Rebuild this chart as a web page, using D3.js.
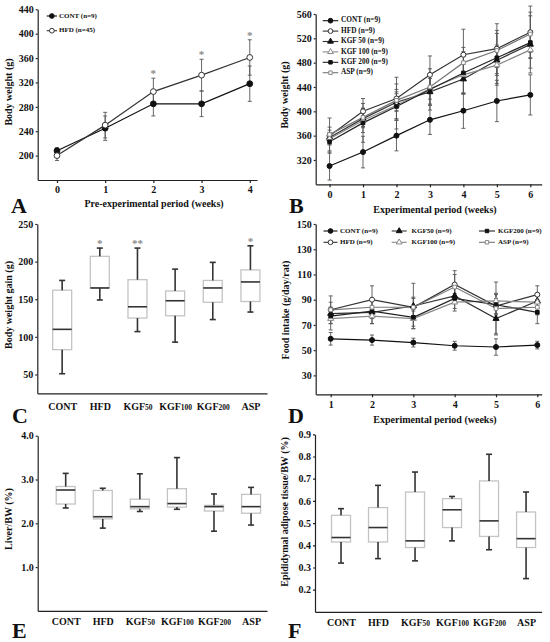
<!DOCTYPE html>
<html>
<head>
<meta charset="utf-8">
<script src="https://cdn.jsdelivr.net/npm/d3@7"></script>
<style>
  body { margin: 0; background: #fff; }
  svg { display: block; }
  text { font-family: "Liberation Serif", "Times New Roman", serif; font-weight: bold; fill: #111; }
</style>
</head>
<body>
<svg id="fig" width="550" height="642"></svg>
<script>
// ---- panel A: pre-experimental body weight ----
const weeksA = [0, 1, 2, 3, 4];
const contA = [208, 245, 285, 285, 318];
const contAsd = [5, 20, 20, 21, 29];
const hfdA = [200, 250, 305, 332, 361];
const hfdAsd = [8, 21, 22, 26, 29];
const starWeeksA = [2, 3, 4];

// ---- panel B: experimental body weight ----
const weeksB = [0, 1, 2, 3, 4, 5, 6];
const contB = [310, 333, 360, 386, 401, 417, 427];
const contBsd = [23, 26, 25, 24, 29, 34, 33];
const hfdB = [360, 400, 421, 460, 493, 503, 530];
const hfdBsd = [29, 21, 35, 31, 42, 41, 43];
const kgf50B = [357, 388, 415, 432, 453, 484, 510];
const kgf50Bsd = [12, 15, 14, 22, 24, 25, 22];
const kgf100B = [355, 385, 410, 437, 460, 476, 501];
const kgf100Bsd = [10, 20, 22, 25, 30, 30, 30];
const kgf200B = [350, 381, 408, 436, 463, 488, 513];
const kgf200Bsd = [15, 32, 37, 34, 35, 45, 50];
const aspB = [362, 390, 418, 440, 480, 500, 527];
const aspBsd = [12, 15, 18, 20, 25, 28, 30];

// ---- panel D: food intake ----
const weeksD = [1, 2, 3, 4, 5, 6];
const contD = [59, 58, 56, 53.5, 52.5, 54];
const contDsd = [5, 4, 3.5, 3.5, 6.5, 3];
const hfdD = [82, 90, 84, 102, 85, 94];
const hfdDsd = [11, 11, 8, 11, 6, 7];
const kgf50D = [79, 80, 85, 93, 75, 89];
const kgf50Dsd = [5, 5, 18, 6, 12, 5];
const kgf100D = [75, 77, 75, 88, 89, 88];
const kgf100Dsd = [9, 6, 6, 7, 6, 5];
const kgf200D = [77, 81, 76, 91, 86, 80];
const kgf200Dsd = [6, 10, 9, 8, 8, 9];
const aspD = [82, 84, 84, 100, 83, 84];
const aspDsd = [6, 6, 7, 10, 21, 6];

// ---- box plots: [low, q1, median, q3, high] ----
const groups = ["CONT", "HFD", "KGF50", "KGF100", "KGF200", "ASP"];
const gainStats = [[51, 83, 110, 162, 175], [149, 165, 165, 207, 218], [107, 125, 140, 176, 218],
                   [93, 128, 148, 161, 190], [123, 146, 165, 175, 199], [133, 147, 173, 189, 221]];
const gainStars = ["", "*", "**", "", "", "*"];
const liverStats = [[2.35, 2.44, 2.76, 2.84, 3.14], [1.89, 2.10, 2.15, 2.75, 2.80], [2.27, 2.33, 2.38, 2.55, 3.13],
                    [2.32, 2.37, 2.45, 2.79, 3.50], [1.82, 2.28, 2.38, 2.41, 2.67], [1.96, 2.23, 2.38, 2.66, 2.82]];
const fatStats = [[0.32, 0.415, 0.435, 0.535, 0.565], [0.34, 0.415, 0.48, 0.57, 0.67], [0.33, 0.39, 0.42, 0.64, 0.73],
                  [0.42, 0.48, 0.56, 0.61, 0.62], [0.38, 0.44, 0.51, 0.69, 0.81], [0.25, 0.39, 0.43, 0.55, 0.64]];

const svg = d3.select("#fig");

// marker styles for the six groups
const styles = {
  CONT:   { sym: d3.symbolCircle,   size: 22, fill: "#111", stroke: "#111", line: "#111" },
  HFD:    { sym: d3.symbolCircle,   size: 22, fill: "#fff", stroke: "#333", line: "#333" },
  KGF50:  { sym: d3.symbolTriangle, size: 18, fill: "#111", stroke: "#111", line: "#333" },
  KGF100: { sym: d3.symbolTriangle, size: 18, fill: "#fff", stroke: "#888", line: "#888" },
  KGF200: { sym: d3.symbolSquare,   size: 15, fill: "#111", stroke: "#111", line: "#222" },
  ASP:    { sym: d3.symbolSquare,   size: 15, fill: "#fff", stroke: "#888", line: "#777" }
};

function axes(x, y, o) {
  const g = svg.append("g");
  const xa = d3.axisBottom(x).tickValues(o.xTicks).tickSize(o.xTickSize).tickSizeOuter(0)
    .tickPadding(o.xPad).tickFormat(o.xFmt || d3.format("d"));
  const gx = g.append("g").attr("transform", `translate(0,${y.range()[0]})`).call(xa);
  const ya = d3.axisLeft(y).tickValues(o.yTicks).tickSize(2).tickSizeOuter(0)
    .tickPadding(2).tickFormat(o.yFmt || d3.format("d"));
  g.append("g").attr("transform", `translate(${x.range()[0]},0)`).call(ya);
  g.selectAll(".domain, .tick line").attr("stroke", "#222").attr("stroke-width", 1.2);
  g.selectAll(".tick text").attr("font-size", 10).attr("fill", "#111");
  if (o.groupLabels) {
    gx.selectAll(".tick text").each(function (i) {
      const t = d3.select(this), m = groups[i].match(/^(KGF)(\d+)$/);
      t.text(null);
      if (m) {
        t.append("tspan").text(m[1]);
        t.append("tspan").attr("font-size", 7.5).text(m[2]);
      } else t.text(groups[i]);
    });
  }
  if (o.xTitle) g.append("text").attr("x", o.xTitle[1]).attr("y", o.xTitle[2]).attr("text-anchor", "middle")
    .attr("font-size", 10).text(o.xTitle[0]);
  g.append("text").attr("transform", `translate(${o.yTitle[1]},${o.yTitle[2]}) rotate(-90)`)
    .attr("text-anchor", "middle").attr("dominant-baseline", "middle").attr("font-size", 10).text(o.yTitle[0]);
  g.append("text").attr("x", o.letter[1]).attr("y", o.letter[2]).attr("font-size", 22).text(o.letter[0]);
}

function lines(x, y, xs, series, k) {
  const g = svg.append("g");
  series.forEach(s => {
    xs.forEach((w, i) => {
      const px = x(w), lo = y(s.v[i] - s.sd[i]), hi = y(s.v[i] + s.sd[i]);
      g.append("line").attr("x1", px).attr("x2", px).attr("y1", lo).attr("y2", hi)
        .attr("stroke", "#555").attr("stroke-width", 0.9);
      [lo, hi].forEach(yy => g.append("line").attr("x1", px - 2).attr("x2", px + 2)
        .attr("y1", yy).attr("y2", yy).attr("stroke", "#555").attr("stroke-width", 0.9));
    });
  });
  series.forEach(s => {
    const st = styles[s.key];
    g.append("path").datum(s.v).attr("fill", "none").attr("stroke", st.line).attr("stroke-width", 1.2)
      .attr("d", d3.line().x((d, i) => x(xs[i])).y(d => y(d)));
  });
  series.forEach(s => {
    const st = styles[s.key];
    g.selectAll(null).data(s.v).join("path")
      .attr("transform", (d, i) => `translate(${x(xs[i])},${y(d)})`)
      .attr("d", d3.symbol(st.sym, st.size * k)).attr("fill", st.fill)
      .attr("stroke", st.stroke).attr("stroke-width", 1);
  });
}

function legend(items) {
  const g = svg.append("g");
  items.forEach(it => {
    const st = styles[it.key];
    g.append("line").attr("x1", it.x0).attr("x2", it.x1).attr("y1", it.y).attr("y2", it.y)
      .attr("stroke", st.line).attr("stroke-width", 1.1);
    g.append("path").attr("transform", `translate(${(it.x0 + it.x1) / 2},${it.y})`)
      .attr("d", d3.symbol(st.sym, st.size * 0.8)).attr("fill", st.fill).attr("stroke", st.stroke);
    g.append("text").attr("x", it.tx).attr("y", it.y).attr("dominant-baseline", "middle")
      .attr("font-size", it.fs).text(it.label);
  });
}

function boxes(x, y, stats, stars) {
  const g = svg.append("g"), hw = 9.5, cw = 3;
  stats.forEach((s, i) => {
    const cx = x(i);
    g.append("rect").attr("x", cx - hw).attr("width", 2 * hw).attr("y", y(s[3])).attr("height", y(s[1]) - y(s[3]))
      .attr("fill", "#fff").attr("stroke", "#c4c4c4").attr("stroke-width", 1.3);
    [[s[0], s[1]], [s[4], s[3]]].forEach(([end, edge]) => {
      g.append("line").attr("x1", cx).attr("x2", cx).attr("y1", y(end)).attr("y2", y(edge))
        .attr("stroke", "#333").attr("stroke-width", 1.6);
      g.append("line").attr("x1", cx - cw).attr("x2", cx + cw).attr("y1", y(end)).attr("y2", y(end))
        .attr("stroke", "#333").attr("stroke-width", 1.6);
    });
    g.append("line").attr("x1", cx - hw).attr("x2", cx + hw).attr("y1", y(s[2])).attr("y2", y(s[2]))
      .attr("stroke", "#333").attr("stroke-width", 1.6);
    if (stars && stars[i]) g.append("text").attr("x", cx).attr("y", y(s[4]) - 1).attr("text-anchor", "middle")
      .attr("font-size", 11).style("fill", "#888").text(stars[i]);
  });
}

// ===== A =====
const xA = d3.scaleLinear().domain([-0.4, 4.15]).range([37.7, 257]);
const yA = d3.scaleLinear().domain([160, 440]).range([180, 9.3]);
axes(xA, yA, { xTicks: weeksA, xTickSize: 3, xPad: 3, yTicks: d3.range(200, 441, 40),
  xTitle: ["Pre-experimental period (weeks)", 154, 207], yTitle: ["Body weight (g)", 10, 92], letter: ["A", 11, 213] });
lines(xA, yA, weeksA, [{ key: "CONT", v: contA, sd: contAsd }, { key: "HFD", v: hfdA, sd: hfdAsd }], 1.2);
svg.append("g").selectAll("text").data(starWeeksA).join("text")
  .attr("x", d => xA(d)).attr("y", d => yA(hfdA[d] + hfdAsd[d]) - 1).attr("text-anchor", "middle")
  .attr("font-size", 11).style("fill", "#888").text("*");
legend([
  { key: "CONT", label: "CONT (n=9)", x0: 46.7, x1: 57, tx: 59, y: 16, fs: 7 },
  { key: "HFD", label: "HFD (n=45)", x0: 46.7, x1: 57, tx: 59, y: 30.7, fs: 7 }
]);

// ===== B =====
const xB = d3.scaleLinear().domain([-0.414, 6.34]).range([315.7, 541.7]);
const yB = d3.scaleLinear().domain([280, 560]).range([184.3, 14]);
axes(xB, yB, { xTicks: weeksB, xTickSize: 3, xPad: 4, yTicks: d3.range(320, 561, 40),
  xTitle: ["Experimental period (weeks)", 435, 213], yTitle: ["Body weight (g)", 286, 95], letter: ["B", 289, 213] });
lines(xB, yB, weeksB, [
  { key: "CONT", v: contB, sd: contBsd }, { key: "HFD", v: hfdB, sd: hfdBsd },
  { key: "KGF50", v: kgf50B, sd: kgf50Bsd }, { key: "KGF100", v: kgf100B, sd: kgf100Bsd },
  { key: "KGF200", v: kgf200B, sd: kgf200Bsd }, { key: "ASP", v: aspB, sd: aspBsd }
], 0.9);
const legB = [["CONT", "CONT (n=9)"], ["HFD", "HFD (n=9)"], ["KGF50", "KGF 50 (n=9)"],
              ["KGF100", "KGF 100 (n=9)"], ["KGF200", "KGF 200 (n=9)"], ["ASP", "ASP (n=9)"]];
legend(legB.map((d, i) => ({ key: d[0], label: d[1], x0: 322.7, x1: 338.3, tx: 341, y: 20.7 + i * 10.4, fs: 7.3 })));

// ===== C =====
const xC = d3.scaleLinear().domain([-0.66, 5.44]).range([37.3, 267]);
const yC = d3.scaleLinear().domain([25, 250]).range([393.3, 224]);
axes(xC, yC, { xTicks: d3.range(6), xTickSize: 0, xPad: 10, groupLabels: true, yTicks: d3.range(50, 251, 50),
  yTitle: ["Body weight gain (g)", 10, 305], letter: ["C", 12, 423] });
boxes(xC, yC, gainStats, gainStars);

// ===== D =====
const xD = d3.scaleLinear().domain([0.637, 6.106]).range([315.7, 541.7]);
const yD = d3.scaleLinear().domain([15, 150]).range([394.3, 224]);
axes(xD, yD, { xTicks: weeksD, xTickSize: 3, xPad: 4, yTicks: d3.range(30, 151, 20),
  xTitle: ["Experimental period (weeks)", 435, 423], yTitle: ["Food intake (g/day/rat)", 287, 310], letter: ["D", 288, 423] });
lines(xD, yD, weeksD, [
  { key: "CONT", v: contD, sd: contDsd }, { key: "HFD", v: hfdD, sd: hfdDsd },
  { key: "KGF50", v: kgf50D, sd: kgf50Dsd }, { key: "KGF100", v: kgf100D, sd: kgf100Dsd },
  { key: "KGF200", v: kgf200D, sd: kgf200Dsd }, { key: "ASP", v: aspD, sd: aspDsd }
], 0.9);
const legD = [["CONT", "CONT (n=9)"], ["HFD", "HFD (n=9)"], ["KGF50", "KGF50 (n=9)"],
              ["KGF100", "KGF100 (n=9)"], ["KGF200", "KGF200 (n=9)"], ["ASP", "ASP (n=9)"]];
const legDcols = [[323.5, 337.5, 340], [391.7, 406.7, 411.5], [479, 495, 498]];
legend(legD.map((d, i) => {
  const c = legDcols[Math.floor(i / 2)];
  return { key: d[0], label: d[1], x0: c[0], x1: c[1], tx: c[2], y: 231 + (i % 2) * 11.3, fs: 7 };
}));

// ===== E =====
const xE = d3.scaleLinear().domain([-0.755, 5.43]).range([37.7, 267]);
const yE = d3.scaleLinear().domain([0, 4]).range([610.9, 435.7]);
axes(xE, yE, { xTicks: d3.range(6), xTickSize: 0, xPad: 7, groupLabels: true, yTicks: [1, 2, 3, 4], yFmt: d3.format(".1f"),
  yTitle: ["Liver/BW (%)", 10, 519], letter: ["E", 12, 638] });
boxes(xE, yE, liverStats);

// ===== F =====
const xF = d3.scaleLinear().domain([-0.703, 5.42]).range([315, 541.6]);
const yF = d3.scaleLinear().domain([0.1, 0.9]).range([611.9, 434.3]);
axes(xF, yF, { xTicks: d3.range(6), xTickSize: 0, xPad: 7, groupLabels: true, yTicks: d3.range(0.2, 0.95, 0.1), yFmt: d3.format(".1f"),
  yTitle: ["Epididymal adipose tissue/BW (%)", 286, 512], letter: ["F", 288, 638] });
boxes(xF, yF, fatStats);
</script>
</body>
</html>
